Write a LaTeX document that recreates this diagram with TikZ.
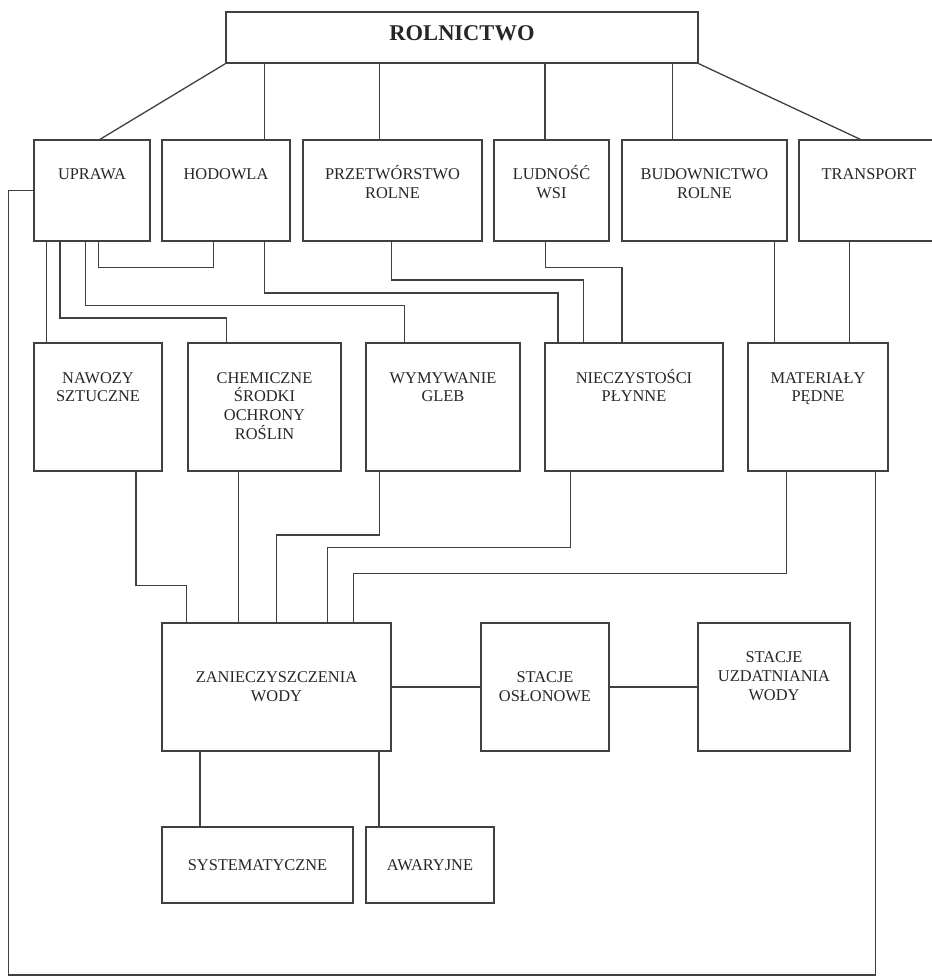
\documentclass[tikz,border=0pt]{standalone}
\usepackage{fontspec}
\setmainfont{Liberation Serif}
\newcommand{\firstln}{\rule{0pt}{15pt}}
\begin{document}
\begin{tikzpicture}[x=1pt,y=-1pt,
  ln/.style={draw=black!75, line width=1.3pt},
  box/.style={ln, rectangle, inner sep=0pt, align=center, text=black!85,
              font=\fontsize{16.4}{18.8}\selectfont},
  tl/.style={anchor=north, inner sep=0pt, align=center, text=black!85,
             font=\fontsize{16.4}{18.8}\selectfont},
]
\useasboundingbox[fill=white] (0,0) rectangle (932,978);
\clip (0,0) rectangle (932,978);

% top
\node[box, minimum width=472pt, minimum height=51pt] (rol) at (462,37.5) {};
\node[inner sep=0pt, text=black!85, font=\fontsize{22.5}{24}\selectfont\bfseries] (rolt) at ([yshift=4.2pt]rol.center) {ROLNICTWO};

% row 1
\node[box, minimum width=116pt, minimum height=101pt] (upr) at (92,190.5) {};
\node[box, minimum width=128pt, minimum height=101pt] (hod) at (226,190.5) {};
\node[box, minimum width=179pt, minimum height=101pt] (prz) at (392.5,190.5) {};
\node[box, minimum width=115pt, minimum height=101pt] (lud) at (551.5,190.5) {};
\node[box, minimum width=165pt, minimum height=101pt] (bud) at (704.5,190.5) {};
\node[box, minimum width=140pt, minimum height=101pt] (tra) at (869,190.5) {};
\node[tl] (uprt) at ([yshift=-25.3pt]upr.north) {\firstln UPRAWA};
\node[tl] (hodt) at ([yshift=-25.3pt]hod.north) {\firstln HODOWLA};
\node[tl] (przt) at ([yshift=-25.3pt]prz.north) {\firstln PRZETWÓRSTWO\\ROLNE};
\node[tl] (ludt) at ([yshift=-25.3pt]lud.north) {\firstln LUDNOŚĆ\\WSI};
\node[tl] (budt) at ([yshift=-25.3pt]bud.north) {\firstln BUDOWNICTWO\\ROLNE};
\node[tl] (trat) at ([yshift=-25.3pt]tra.north) {\firstln TRANSPORT};

% row 2
\node[box, minimum width=128pt, minimum height=128pt] (naw) at (98,407) {};
\node[box, minimum width=153pt, minimum height=128pt] (chem) at (264.5,407) {};
\node[box, minimum width=154pt, minimum height=128pt] (wym) at (443,407) {};
\node[box, minimum width=178pt, minimum height=128pt] (nie) at (634,407) {};
\node[box, minimum width=140pt, minimum height=128pt] (mat) at (818,407) {};
\node[tl] (nawt) at ([yshift=-25.5pt]naw.north) {\firstln NAWOZY\\SZTUCZNE};
\node[tl] (chemt) at ([yshift=-25.5pt]chem.north) {\firstln CHEMICZNE\\ŚRODKI\\OCHRONY\\ROŚLIN};
\node[tl] (wymt) at ([yshift=-25.5pt]wym.north) {\firstln WYMYWANIE\\GLEB};
\node[tl] (niet) at ([yshift=-25.5pt]nie.north) {\firstln NIECZYSTOŚCI\\PŁYNNE};
\node[tl] (matt) at ([yshift=-25.5pt]mat.north) {\firstln MATERIAŁY\\PĘDNE};

% row 3
\node[box, minimum width=229pt, minimum height=128pt] (zan) at (276.5,687) {ZANIECZYSZCZENIA\\WODY};
\node[box, minimum width=128pt, minimum height=128pt] (osl) at (545,687) {STACJE\\OSŁONOWE};
\node[box, minimum width=152pt, minimum height=128pt] (uzd) at (774,687) {};
\node[tl] (uzdt) at ([yshift=-25.3pt]uzd.north) {\firstln STACJE\\UZDATNIANIA\\WODY};

% row 4
\node[box, minimum width=191pt, minimum height=76pt] (sys) at (257.5,865) {SYSTEMATYCZNE};
\node[box, minimum width=128pt, minimum height=76pt] (awa) at (430,865) {AWARYJNE};

\coordinate (lpb) at (8.3,975);

% connectors from ROLNICTWO
\draw[ln] (rol.south west) -- ([xshift=8pt]upr.north);
\draw[ln] ([xshift=38.3pt]hod.north) -- ([xshift=38.3pt]hod.north |- rol.south);
\draw[ln] ([xshift=-13.2pt]prz.north) -- ([xshift=-13.2pt]prz.north |- rol.south);
\draw[ln] ([xshift=-6.5pt]lud.north) -- ([xshift=-6.5pt]lud.north |- rol.south);
\draw[ln] ([xshift=-32.2pt]bud.north) -- ([xshift=-32.2pt]bud.north |- rol.south);
\draw[ln] (rol.south east) -- ([xshift=-8.7pt]tra.north);

% row 1 to row 2
\draw[ln] ([xshift=6.3pt]upr.south) -- ++(0,25.7) -| ([xshift=-12.7pt]hod.south);
\draw[ln] ([xshift=-6.3pt]upr.south) -- ++(0,63.7) -| ([xshift=-38.3pt]wym.north);
\draw[ln] ([xshift=-32pt]upr.south) -- ++(0,76.3) -| ([xshift=-37.8pt]chem.north);
\draw[ln] ([xshift=-45.3pt]upr.south) -- ([xshift=-45.3pt]upr.south |- naw.north);
\draw[ln] ([xshift=38.3pt]hod.south) -- ++(0,51.3) -| ([xshift=-76pt]nie.north);
\draw[ln] ([xshift=-0.8pt]prz.south) -- ++(0,38.3) -| ([xshift=-50.3pt]nie.north);
\draw[ln] ([xshift=-6.2pt]lud.south) -- ++(0,25.7) -| ([xshift=-12pt]nie.north);
\draw[ln] ([xshift=69.8pt]bud.south) -- ([xshift=69.8pt]bud.south |- mat.north);
\draw[ln] ([xshift=-19.3pt]tra.south) -- ([xshift=-19.3pt]tra.south |- mat.north);

% row 2 to ZANIECZYSZCZENIA
\draw[ln] ([xshift=38pt]naw.south) -- ++(0,113.7) -| ([xshift=-89.8pt]zan.north);
\draw[ln] ([xshift=-26.2pt]chem.south) -- ([xshift=-26.2pt]chem.south |- zan.north);
\draw[ln] ([xshift=-63.7pt]wym.south) -- ++(0,63.3) -| (zan.north);
\draw[ln] ([xshift=-63.7pt]nie.south) -- ++(0,76) -| ([xshift=51.2pt]zan.north);
\draw[ln] ([xshift=-31.3pt]mat.south) -- ++(0,102) -| ([xshift=76.8pt]zan.north);

% loop MATERIALY -> UPRAWA
\draw[ln] ([xshift=57.3pt]mat.south) |- (lpb) |- (upr.west);

% row 3
\draw[ln] (zan.east) -- (osl.west);
\draw[ln] (osl.east) -- (uzd.west);
\draw[ln] ([xshift=-76.5pt]zan.south) -- ([xshift=-76.5pt]zan.south |- sys.north);
\draw[ln] ([xshift=102.5pt]zan.south) -- ([xshift=102.5pt]zan.south |- awa.north);
\end{tikzpicture}
\end{document}
